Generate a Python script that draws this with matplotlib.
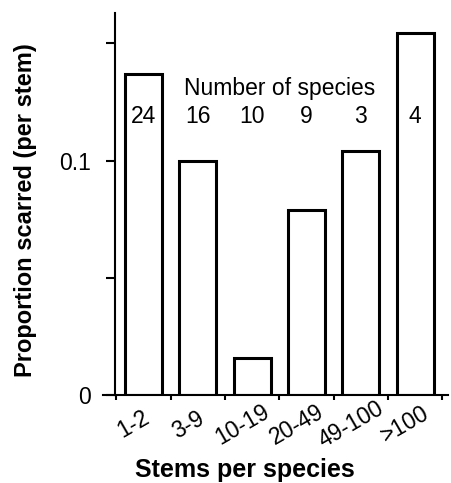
import matplotlib
matplotlib.use('Agg')
import matplotlib.pyplot as plt
from matplotlib.transforms import ScaledTranslation

plt.rcParams['font.family'] = ['Liberation Sans', 'DejaVu Sans']

# Data
categories = ['1-2', '3-9', '10-19', '20-49', '49-100', '>100']
proportion = [0.137, 0.100, 0.0156, 0.079, 0.104, 0.1545]
n_species = [24, 16, 10, 9, 3, 4]

fig = plt.figure(figsize=(4.51, 4.83), dpi=100)
ax = fig.add_axes([0.2557, 0.183, 0.737, 0.79])

x = list(range(len(categories)))
ax.bar(x, proportion, width=0.68, color='white', edgecolor='black', linewidth=2.2)

# species counts
for xi, n in zip(x, n_species):
    ax.text(xi, 0.1186, str(n), ha='center', va='center', fontsize=16.5)
ax.text(2.5, 0.1308, 'Number of species', ha='center', va='center', fontsize=16.5)

ax.set_xlim(-0.52, 5.6)
ax.set_ylim(0, 0.163)

ax.set_yticks([0, 0.05, 0.1, 0.15])
ax.set_yticklabels(['0', '', '0.1', ''], fontsize=16.5)
ax.tick_params(axis='y', length=6.5, width=1.5, pad=11)

# ticks between bars, labels under bars
ax.set_xticks([i - 0.5 for i in range(len(categories) + 1)])
ax.set_xticklabels([])
ax.tick_params(axis='x', which='major', length=3.5, width=1.5)
ax.set_xticks(x, minor=True)
ax.set_xticklabels(categories, minor=True, rotation=30, ha='center', fontsize=16.5)
ax.tick_params(axis='x', which='minor', length=0, pad=0)
offset = ScaledTranslation(-0.1, -0.3, fig.dpi_scale_trans)
for lbl in ax.get_xticklabels(minor=True):
    lbl.set_va('center')
    lbl.set_transform(lbl.get_transform() + offset)

ax.spines['top'].set_visible(False)
ax.spines['right'].set_visible(False)
ax.spines['left'].set_linewidth(1.5)
ax.spines['bottom'].set_linewidth(1.5)
ax.spines['bottom'].set_bounds(-0.75, 5.6)

ax.set_ylabel('Proportion scarred (per stem)', fontsize=17, fontweight='bold')
ax.yaxis.set_label_coords(-0.236, 0.484)
ax.set_xlabel('Stems per species', fontsize=18, fontweight='bold')
ax.xaxis.set_label_coords(0.389, -0.198)
ax.xaxis.label.set_va('center')

fig.savefig('out.png', dpi=100)
